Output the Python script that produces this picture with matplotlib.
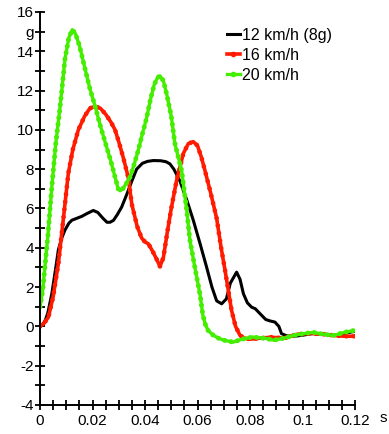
import matplotlib
matplotlib.use('Agg')
import matplotlib.pyplot as plt
from matplotlib.lines import Line2D

plt.rcParams['font.family'] = ['Liberation Sans', 'DejaVu Sans']

# time (s) / acceleration (g)
t_12 = [0, 0.001, 0.002, 0.003, 0.0045, 0.0058, 0.007, 0.0083, 0.0095, 0.011,
        0.0121, 0.014, 0.0159, 0.018, 0.0203, 0.022, 0.024, 0.0255, 0.0267,
        0.028, 0.0295, 0.0311, 0.033, 0.035, 0.0368, 0.039, 0.041, 0.0432,
        0.046, 0.048, 0.0495, 0.051, 0.0533, 0.056, 0.0584, 0.061, 0.0635,
        0.0655, 0.0673, 0.0692, 0.071, 0.0725, 0.0749, 0.0762, 0.0775, 0.079,
        0.0806, 0.082, 0.0838, 0.086, 0.0876, 0.0895, 0.091, 0.092, 0.094,
        0.097, 0.100, 0.104, 0.108, 0.112, 0.116, 0.12]
a_12 = [0, 0.1, 0.3, 0.7, 1.66, 2.8, 3.9, 4.5, 4.9, 5.25,
        5.4, 5.5, 5.6, 5.75, 5.9, 5.8, 5.5, 5.3, 5.3,
        5.4, 5.7, 6.07, 6.7, 7.4, 8.0, 8.3, 8.4, 8.44,
        8.43, 8.38, 8.27, 8.0, 7.4, 6.4, 5.4, 4.2, 3.0,
        2.0, 1.3, 1.15, 1.4, 2.2, 2.76, 2.4, 1.66, 1.2,
        0.98, 0.9, 0.65, 0.35, 0.28, 0.22, 0.0, -0.37, -0.48,
        -0.5, -0.45, -0.36, -0.4, -0.46, -0.35, -0.25]

t_16 = [0, 0.0015, 0.0032, 0.005, 0.007, 0.009, 0.0108, 0.0125, 0.0146, 0.017,
        0.019, 0.021, 0.023, 0.025, 0.027, 0.0286, 0.030, 0.0317, 0.0336,
        0.035, 0.037, 0.0387, 0.040, 0.0413, 0.043, 0.0445, 0.0457, 0.047,
        0.0485, 0.050, 0.052, 0.0546, 0.0565, 0.0584, 0.060, 0.0615, 0.0629,
        0.065, 0.0673, 0.069, 0.0705, 0.073, 0.0745, 0.0762, 0.078, 0.080,
        0.084, 0.088, 0.093, 0.098, 0.103, 0.108, 0.112, 0.116, 0.12]
a_16 = [0, 0.15, 0.47, 1.5, 3.2, 5.6, 7.8, 9.0, 10.0, 10.7,
        11.1, 11.2, 11.1, 10.8, 10.4, 10.0, 9.4, 8.6, 7.6,
        6.2, 5.1, 4.5, 4.3, 4.2, 3.8, 3.4, 3.05, 3.5,
        4.8, 6.0, 7.4, 8.8, 9.3, 9.4, 9.2, 8.6, 7.9,
        6.8, 5.5, 4.0, 2.85, 0.8, 0.0, -0.46, -0.6, -0.65,
        -0.6, -0.55, -0.6, -0.4, -0.36, -0.4, -0.46, -0.5, -0.5]

t_20 = [0, 0.001, 0.002, 0.003, 0.0045, 0.006, 0.0075, 0.0083, 0.0095, 0.011,
        0.0123, 0.0135, 0.015, 0.017, 0.019, 0.021, 0.023, 0.025, 0.027,
        0.0286, 0.0298, 0.0305, 0.0315, 0.033, 0.0343, 0.036, 0.0375, 0.039,
        0.0406, 0.042, 0.0435, 0.0447, 0.0457, 0.047, 0.0483, 0.050, 0.0514,
        0.054, 0.0559, 0.0571, 0.059, 0.061, 0.062, 0.063, 0.064, 0.066,
        0.068, 0.070, 0.0736, 0.077, 0.081, 0.0864, 0.089, 0.093, 0.0966,
        0.100, 0.104, 0.108, 0.1118, 0.116, 0.12]
a_20 = [1.0, 1.8, 3.2, 4.6, 7.1, 9.3, 11.0, 12.0, 13.6, 14.7,
        15.1, 14.9, 14.3, 13.2, 12.1, 11.2, 10.2, 9.3, 8.4,
        7.6, 7.0, 6.9, 7.0, 7.3, 7.6, 8.3, 9.0, 9.8,
        10.6, 11.5, 12.3, 12.65, 12.75, 12.5, 11.8, 10.7, 9.3,
        7.9, 5.9, 4.4, 3.0, 1.6, 0.6, 0.1, -0.2, -0.45,
        -0.6, -0.7, -0.8, -0.65, -0.54, -0.62, -0.7, -0.6, -0.46,
        -0.38, -0.3, -0.4, -0.46, -0.3, -0.2]

labels = ['12 km/h (8g)', '16 km/h', '20 km/h']
col_12 = '#000000'
col_16 = '#ff1a00'
col_20 = '#44ee00'

yticks = [-4, -2, 0, 2, 4, 6, 8, 10, 12, 14, 15, 16]
yticklabels = ['-4', '-2', '0', '2', '4', '6', '8', '10', '12', '14', 'g', '16']
xticks = [0, 0.02, 0.04, 0.06, 0.08, 0.1, 0.12]
xticklabels = ['0', '0.02', '0.04', '0.06', '0.08', '0.1', '0.12']

fig = plt.figure(figsize=(3.89, 4.34), dpi=100)
ax = fig.add_axes([40 / 389, 29 / 434, 315 / 389, 393 / 434])

ax.plot(t_12, a_12, color=col_12, lw=2.2, solid_joinstyle='round')
ax.plot(t_16, a_16, color=col_16, lw=2.6, solid_joinstyle='round')
ax.plot(t_16, a_16, color=col_16, lw=3.4, ls=(0, (0.01, 1.6)), dash_capstyle='round')
ax.plot(t_20, a_20, color=col_20, lw=2.4, solid_joinstyle='round')
ax.plot(t_20, a_20, color=col_20, lw=3.6, ls=(0, (0.01, 1.3)), dash_capstyle='round')

ax.set_xlim(0, 0.12)
ax.set_ylim(-4, 16)
for s in ['top', 'right']:
    ax.spines[s].set_visible(False)
for s in ['left', 'bottom']:
    ax.spines[s].set_linewidth(1.4)

ax.set_xticks(xticks)
ax.set_xticklabels(xticklabels)
ax.set_xticks([i * 0.005 for i in range(25)], minor=True)
ax.set_yticks(yticks)
ax.set_yticklabels(yticklabels)
ax.set_yticks(list(range(-4, 17)), minor=True)
ax.tick_params(which='both', direction='inout', length=7, width=1.3, labelsize=11)
ax.tick_params(axis='x', pad=3)
ax.tick_params(axis='y', pad=1)

ax.text(383 / 389, 16 / 434, 's', transform=fig.transFigure, fontsize=11,
        ha='center', va='center')

handles = [Line2D([], [], color=col_12, lw=2.2),
           Line2D([], [], color=col_16, lw=2.6, marker='o', markersize=3, markevery=[1]),
           Line2D([], [], color=col_20, lw=2.4, marker='o', markersize=3, markevery=[0, 1])]
fig.legend(handles, labels, loc='upper left', bbox_to_anchor=(227 / 389, 1 - 28 / 434),
           frameon=False, fontsize=11.5, handlelength=0.8, handletextpad=0.15,
           labelspacing=0.3, borderaxespad=0, borderpad=0)

fig.savefig('out.png', dpi=100)
